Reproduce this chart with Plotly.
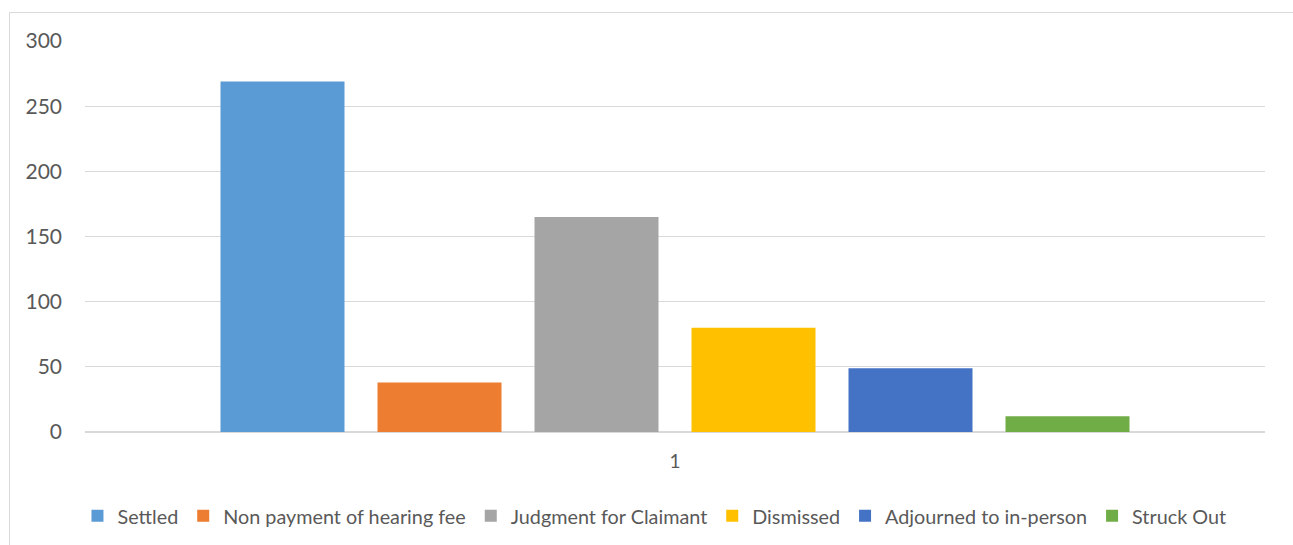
import plotly.graph_objects as go

categories = ["1"]
series_names = ["Settled", "Non payment of hearing fee", "Judgment for Claimant",
                "Dismissed", "Adjourned to in-person", "Struck Out"]
series_values = [269, 38, 165, 80, 49, 12]
colors = ["#5B9BD5", "#ED7D31", "#A5A5A5", "#FFC000", "#4472C4", "#70AD47"]
y_ticks = [0, 50, 100, 150, 200, 250, 300]

W, H = 1293, 545
ML, MR, MT, MB = 85, 28, 41, 113
pw, ph = W - ML - MR, H - MT - MB

fig = go.Figure()
for name, val, col in zip(series_names, series_values, colors):
    fig.add_trace(go.Bar(name=name, x=categories, y=[val], marker=dict(color=col, line=dict(width=0))))

def px_to_paper_x(px):
    return (px - ML) / pw

def px_to_paper_y(py):
    return (H - MB - py) / ph

fig.add_shape(type="rect", xref="paper", yref="paper",
              x0=px_to_paper_x(9.5), x1=px_to_paper_x(1310),
              y0=px_to_paper_y(560), y1=px_to_paper_y(12.5),
              line=dict(color="#D9D9D9", width=1), fillcolor="rgba(0,0,0,0)", layer="below")

fig.update_layout(
    width=W, height=H,
    margin=dict(l=ML, r=MR, t=MT, b=MB, autoexpand=False),
    paper_bgcolor="white", plot_bgcolor="white",
    barmode="group", bargap=0.2017, bargroupgap=0.2102,
    font=dict(family="Lato, Carlito, sans-serif", color="#595959"),
    showlegend=True,
    legend=dict(orientation="h", x=0.4826, xanchor="center", y=px_to_paper_y(516), yanchor="middle",
                font=dict(size=19.8, color="#595959"), itemwidth=30, tracegroupgap=0,
                traceorder="normal"),
    xaxis=dict(type="category", showgrid=False, showline=False, zeroline=False,
               tickfont=dict(size=19, color="#595959"), ticks="", ticklabelstandoff=16),
    yaxis=dict(range=[0, 300], tickvals=y_ticks, showgrid=True, gridcolor="#D9D9D9", gridwidth=1.3,
               zeroline=True, zerolinecolor="#D9D9D9", zerolinewidth=1.5, showline=False,
               tickfont=dict(size=21, color="#595959"), ticks="", ticklabelstandoff=22),
)

fig.write_html("out.html")
